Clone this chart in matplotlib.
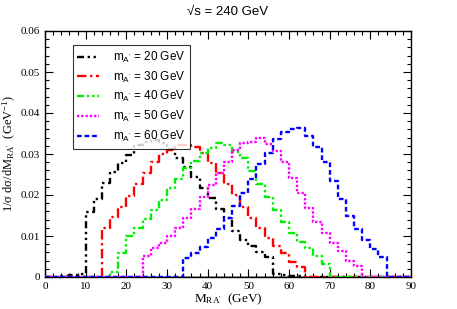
import numpy as np
import matplotlib
matplotlib.use('Agg')
import matplotlib.pyplot as plt
from matplotlib.ticker import MultipleLocator

# 2 GeV bins from 0 to 90; each series: first bin edge + bin contents
bin_width = 2
x_min, x_max = 0, 90

m20_start = 4
m20_vals = [0.0002, 0.0004, 0.0007,
            0.0159, 0.0190, 0.0229, 0.0257, 0.0277, 0.0298, 0.0322, 0.0330,
            0.0334, 0.0326, 0.0312, 0.0290, 0.0268, 0.0245, 0.0218, 0.0193,
            0.0167, 0.0143, 0.0113, 0.0090, 0.0076, 0.0062, 0.0050,
            0.0007, 0.0005, 0.0003, 0.0002]

m30_start = 14
m30_vals = [0.0119, 0.0146, 0.0170, 0.0198, 0.0226, 0.0254, 0.0281, 0.0300,
            0.0310, 0.0322, 0.0323, 0.0318, 0.0303, 0.0277, 0.0254, 0.0228,
            0.0200, 0.0171, 0.0143, 0.0119, 0.0094, 0.0076, 0.0059, 0.0037,
            0.0025]

m40_start = 16
m40_vals = [0.0013, 0.0059, 0.0100, 0.0119, 0.0141, 0.0163, 0.0188, 0.0216,
            0.0238, 0.0265, 0.0284, 0.0303, 0.0314, 0.0327, 0.0322, 0.0306,
            0.0290, 0.0259, 0.0227, 0.0194, 0.0163, 0.0133, 0.0107, 0.0086,
            0.0070, 0.0052, 0.0032]

m50_start = 24
m50_vals = [0.0051, 0.0070, 0.0082, 0.0100, 0.0119, 0.0143, 0.0166, 0.0196,
            0.0224, 0.0253, 0.0280, 0.0310, 0.0326, 0.0330, 0.0338, 0.0324,
            0.0308, 0.0280, 0.0242, 0.0204, 0.0169, 0.0135, 0.0107, 0.0084,
            0.0064, 0.0040, 0.0027]

m60_start = 34
m60_vals = [0.0046, 0.0058, 0.0074, 0.0096, 0.0117, 0.0143, 0.0172, 0.0206,
            0.0239, 0.0275, 0.0303, 0.0336, 0.0354, 0.0360, 0.0364, 0.0345,
            0.0318, 0.0280, 0.0234, 0.0190, 0.0150, 0.0117, 0.0090, 0.0068,
            0.0050]

masses = [20, 30, 40, 50, 60]
starts = [m20_start, m30_start, m40_start, m50_start, m60_start]
series = [m20_vals, m30_vals, m40_vals, m50_vals, m60_vals]

colors = ['black', '#ff0000', '#00ee00', '#ff00ff', '#0000ff']
styles = [(0, (3, 1.5, 1, 1.5, 1, 1.5)),
          (0, (4, 1.5, 1, 1.5)),
          (0, (3, 1.2, 1, 1.2, 1, 1.2)),
          (0, (1, 0.8)),
          (0, (2, 1.2))]

plt.rcParams['mathtext.default'] = 'regular'
serif = ['Liberation Serif', 'DejaVu Serif']
sans = ['Liberation Sans', 'DejaVu Sans']

fig = plt.figure(figsize=(4.57, 3.09), dpi=100)
ax = fig.add_axes([45 / 457, 1 - 277 / 309, 366 / 457, 246 / 309])

edges = np.arange(x_min, x_max + bin_width, bin_width)
ax.axhline(0, color='0.55', lw=1.8, zorder=1)

for m, start, vals, c, ls in zip(masses, starts, series, colors, styles):
    full = np.zeros(len(edges) - 1)
    i0 = (start - x_min) // bin_width
    full[i0:i0 + len(vals)] = vals
    ax.step(edges, np.append(full, full[-1]), where='post', color=c,
            ls=ls, lw=1.7, label=r"m$_{A'}$ = %d GeV" % m, zorder=3)

ax.set_xlim(x_min, x_max)
ax.set_ylim(0, 0.06)
ax.xaxis.set_major_locator(MultipleLocator(10))
ax.xaxis.set_minor_locator(MultipleLocator(2))
ax.yaxis.set_major_locator(MultipleLocator(0.01))
ax.yaxis.set_minor_locator(MultipleLocator(0.002))
ax.tick_params(which='both', direction='in', top=True, right=True, width=0.8)
ax.tick_params(which='major', length=6)
ax.tick_params(which='minor', length=3)
ax.yaxis.set_major_formatter(plt.FuncFormatter(lambda v, p: '0' if v == 0 else '%.2f' % v))
for lab in ax.get_xticklabels() + ax.get_yticklabels():
    lab.set_family(serif)
    lab.set_fontsize(8)
for sp in ax.spines.values():
    sp.set_linewidth(1.0)

ax.set_xlabel(r"M$_{RA'}$  (GeV)", family=serif, fontsize=9.5)
ax.xaxis.set_label_coords(0.5, -0.06)
ax.set_ylabel(r"1/σ dσ/dM$_{RA'}$  (GeV$^{-1}$)", family=serif, fontsize=9)
ax.yaxis.set_label_coords(-0.075, 0.5)

fig.text(228 / 457, 1 - 12 / 309, '√s = 240 GeV', family=sans, fontsize=9.5,
         ha='center', va='center')

leg = ax.legend(loc='upper left', bbox_to_anchor=(0.0757, 0.943), borderaxespad=0,
                prop={'family': sans, 'size': 8.5}, frameon=True, fancybox=False,
                handlelength=1.8, labelspacing=0.4, borderpad=0.4, handletextpad=1.2)
leg.get_frame().set_edgecolor('black')
leg.get_frame().set_linewidth(0.8)

fig.savefig('out.png', dpi=100)
